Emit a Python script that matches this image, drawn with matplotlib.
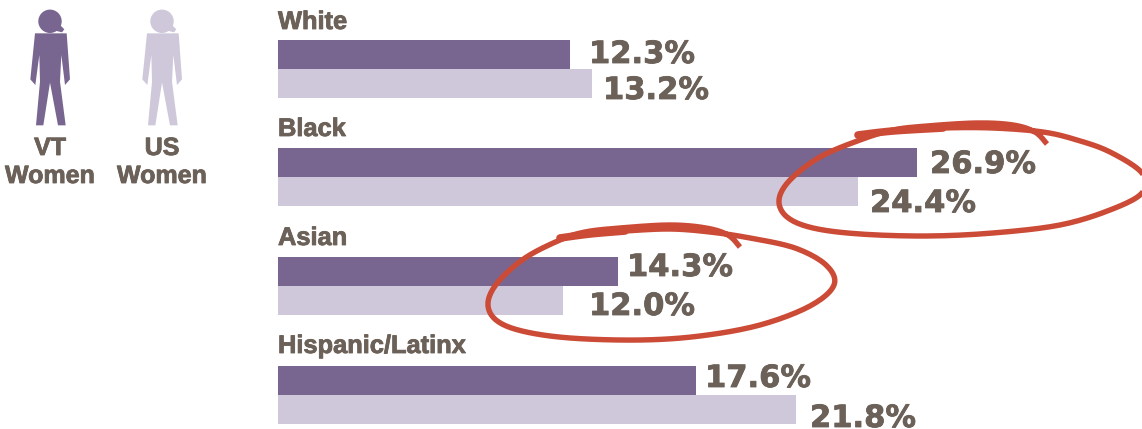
import numpy as np
import matplotlib
matplotlib.use('Agg')
import matplotlib.pyplot as plt
import matplotlib.patheffects as pe
from matplotlib.patches import Polygon, Circle

W, H = 1142, 429

categories = ['White', 'Black', 'Asian', 'Hispanic/Latinx']
vt_women = [12.3, 26.9, 14.3, 17.6]
us_women = [13.2, 24.4, 12.0, 21.8]

# label anchors, the original placed them by hand
vt_label_x = [589, 930, 627, 705]
vt_label_y = [63, 173, 276, 387]
us_label_x = [603, 870, 589, 810]
us_label_y = [99, 212, 315, 427]
cat_label_y = [29, 136, 245, 353]

VT_COL = '#786690'
US_COL = '#cfc8da'
TXT_COL = '#6b6158'
RED = '#cb4b37'

# person outline, in zoom pixels of the icon
body = [(105, 100), (200, 100), (210, 238), (195, 255), (184, 165), (180, 245),
        (197, 376), (174, 376), (150, 248), (130, 376), (108, 376), (120, 245),
        (118, 165), (106, 255), (91, 238)]
hair = [(165, 36), (174, 56), (181, 76), (193, 88), (186, 97), (170, 93), (150, 92), (130, 60)]

# hand drawn rings, in pixels
ring_black = [(1047, 144), (1035, 132), (1013, 125), (977, 123), (927, 126), (893, 130),
              (860, 140), (820, 157), (790, 180), (779, 200), (787, 217), (813, 228),
              (860, 234), (927, 236), (993, 233), (1060, 225), (1110, 210), (1142, 193),
              (1142, 173), (1110, 152), (1077, 140), (1043, 132), (993, 128), (943, 128),
              (893, 131), (858, 135)]
ring_asian = [(740, 247), (728, 235), (706, 228), (670, 225), (620, 228), (585, 232),
              (560, 240), (525, 258), (498, 282), (488, 303), (496, 320), (522, 331),
              (570, 338), (640, 340), (700, 336), (760, 325), (810, 306), (834, 285),
              (826, 265), (795, 248), (750, 238), (710, 232), (670, 229), (625, 231),
              (590, 234), (560, 238)]


def smooth(pts, n=12):
    # catmull-rom through the traced points
    p = np.array(pts, dtype=float)
    p = np.vstack([p[0], p, p[-1]])
    out = []
    for i in range(1, len(p) - 2):
        for t in np.linspace(0, 1, n, endpoint=False):
            out.append(0.5 * (2 * p[i] + (p[i + 1] - p[i - 1]) * t
                              + (2 * p[i - 1] - 5 * p[i] + 4 * p[i + 1] - p[i + 2]) * t ** 2
                              + (3 * p[i] - p[i - 1] - 3 * p[i + 1] + p[i + 2]) * t ** 3))
    out.append(p[-2])
    return np.array(out)


def draw_person(ax, x0, col):
    to_px = lambda pts: [(x0 + (x - 150) / 3, y / 3) for x, y in pts]
    ax.add_patch(Polygon(to_px(body), closed=True, fc=col, ec='none'))
    ax.add_patch(Polygon(to_px(hair), closed=True, fc=col, ec='none'))
    ax.add_patch(Circle((x0, 21.3), 11.7, fc=col, ec='none'))


fig = plt.figure(figsize=(W / 100, H / 100), dpi=100, facecolor='white')

# bars: 23.76 px per percent point, one category every 108.8 px
ax = fig.add_axes([278 / W, 0, (W - 278) / W, 1])
ax.set_xlim(0, (W - 278) / 23.76)
ax.set_ylim((H - 68.5) / 108.8, -68.5 / 108.8)
ax.axis('off')

y = np.arange(len(categories))
bar_h = 29 / 108.8
ax.barh(y - bar_h / 2, vt_women, height=bar_h, color=VT_COL)
ax.barh(y + bar_h / 2, us_women, height=bar_h, color=US_COL)

# overlay in pixels for icons, labels and rings
ov = fig.add_axes([0, 0, 1, 1])
ov.set_xlim(0, W)
ov.set_ylim(H, 0)
ov.axis('off')
ov.patch.set_alpha(0)

heavy = [pe.withStroke(linewidth=0.6, foreground=TXT_COL)]
for i, cat in enumerate(categories):
    ov.text(278, cat_label_y[i], cat, ha='left', va='baseline', color=TXT_COL, fontsize=18.3,
            fontweight='bold', family='Liberation Sans', path_effects=heavy)
    ov.text(vt_label_x[i], vt_label_y[i], f'{vt_women[i]:.1f}%', ha='left', va='baseline',
            color=TXT_COL, fontsize=22, fontweight='bold', family='DejaVu Sans', path_effects=heavy)
    ov.text(us_label_x[i], us_label_y[i], f'{us_women[i]:.1f}%', ha='left', va='baseline',
            color=TXT_COL, fontsize=22, fontweight='bold', family='DejaVu Sans', path_effects=heavy)

draw_person(ov, 50, VT_COL)
draw_person(ov, 162, US_COL)
for xc, top in [(50, 'VT'), (162, 'US')]:
    ov.text(xc, 155, top, ha='center', va='baseline', color=TXT_COL, fontsize=18,
            fontweight='bold', family='Liberation Sans', path_effects=heavy)
    ov.text(xc, 183, 'Women', ha='center', va='baseline', color=TXT_COL, fontsize=18,
            fontweight='bold', family='Liberation Sans', path_effects=heavy)

for ring in (ring_black, ring_asian):
    pts = smooth(ring)
    ov.plot(pts[:, 0], pts[:, 1], color=RED, lw=3.9, solid_capstyle='butt', solid_joinstyle='round')
    # the pen stroke is heavier where it starts to overlap at the top
    top = smooth(ring[-3:])
    ov.plot(top[:, 0], top[:, 1], color=RED, lw=5.5, solid_capstyle='round')

fig.savefig('out.png', dpi=100)
